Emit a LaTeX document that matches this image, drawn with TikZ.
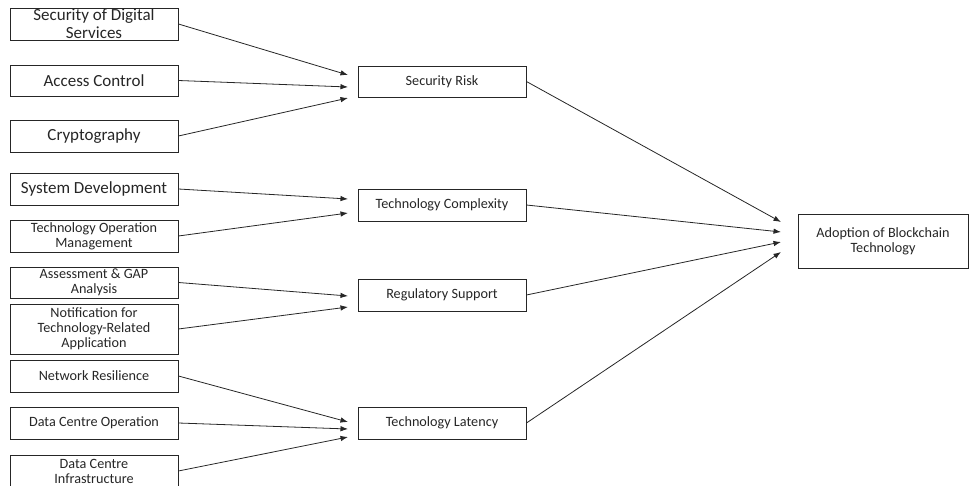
\documentclass[tikz,border=0pt]{standalone}
\usepackage{fontspec}
\setmainfont{Carlito}
\usetikzlibrary{arrows.meta}
\definecolor{ln}{HTML}{262626}
\tikzset{
  box/.style={draw=ln, line width=0.9pt, inner sep=0pt, align=center, text=black!85},
  lbox/.style={box, minimum width=168pt, minimum height=32pt},
  big/.style={font=\fontsize{17}{18}\selectfont},
  small/.style={font=\fontsize{14.2}{15}\selectfont},
  mbox/.style={box, small, minimum width=168pt, minimum height=31pt},
  arr/.style={draw=ln, line width=0.8pt, -{Latex[length=7.5pt,width=5.5pt]}}
}
\begin{document}
\begin{tikzpicture}[x=1pt,y=-1pt]
\useasboundingbox (0,0) rectangle (969,486);
% left boxes
\node[lbox,big] (sds) at (94,24) {Security of Digital\\Services};
\node[lbox,big,minimum height=31pt] (ac) at (94,80.5) {Access Control};
\node[lbox,big] (cr) at (94,136) {Cryptography};
\node[lbox,big] (sd) at (94,189) {System Development};
\node[lbox,small] (tom) at (94,236) {Technology Operation\\Management};
\node[lbox,small,minimum height=31pt] (ag) at (94,282.5) {Assessment \& GAP\\Analysis};
\node[lbox,small,minimum height=50pt] (nf) at (94,329) {Notification for\\Technology-Related\\Application};
\node[lbox,small] (nr) at (94,376) {Network Resilience};
\node[lbox,small] (dco) at (94,423) {Data Centre Operation};
\node[lbox,small] (dci) at (94,471) {Data Centre\\Infrastructure};
% middle boxes
\node[mbox] (sr) at (442,81.5) {Security Risk};
\node[mbox,minimum height=32pt] (tc) at (442,205) {Technology Complexity};
\node[mbox,minimum height=32pt] (rs) at (442,295) {Regulatory Support};
\node[mbox,minimum height=32pt] (tl) at (442,423) {Technology Latency};
% right box
\node[box,small,minimum width=170pt,minimum height=54pt] (ab) at (883,241) {Adoption of Blockchain\\Technology};
% arrow targets
\coordinate (sr1) at (348,75);
\coordinate (sr2) at (348,87);
\coordinate (sr3) at (348,98);
\coordinate (tc1) at (348,199);
\coordinate (tc2) at (348,213);
\coordinate (rs1) at (348,296);
\coordinate (rs2) at (348,307);
\coordinate (tl1) at (348,422);
\coordinate (tl2) at (348,429);
\coordinate (tl3) at (348,437);
\coordinate (ab1) at (781,222);
\coordinate (ab2) at (781,232);
\coordinate (ab3) at (781,242);
\coordinate (ab4) at (781,252);
% arrows
\draw[arr] (sds.east) -- (sr1);
\draw[arr] (ac.east) -- (sr2);
\draw[arr] (cr.east) -- (sr3);
\draw[arr] (sd.east) -- (tc1);
\draw[arr] (tom.east) -- (tc2);
\draw[arr] (ag.east) -- (rs1);
\draw[arr] (nf.east) -- (rs2);
\draw[arr] (nr.east) -- (tl1);
\draw[arr] (dco.east) -- (tl2);
\draw[arr] (dci.east) -- (tl3);
\draw[arr] (sr.east) -- (ab1);
\draw[arr] (tc.east) -- (ab2);
\draw[arr] (rs.east) -- (ab3);
\draw[arr] (tl.east) -- (ab4);
\end{tikzpicture}
\end{document}
